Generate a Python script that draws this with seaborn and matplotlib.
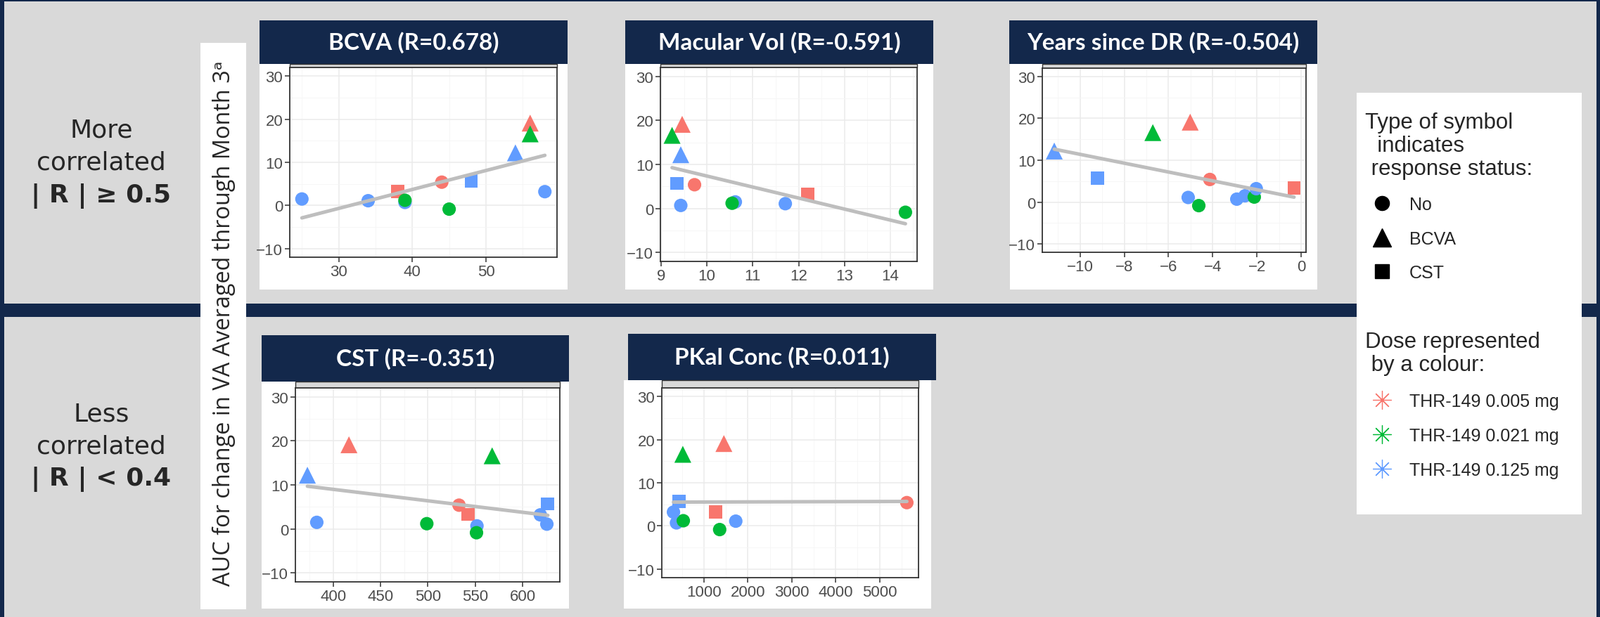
# Painel de correlações: AUC da variação de AV vs. variáveis basais
import numpy as np
import pandas as pd
import matplotlib
matplotlib.use('Agg')
import matplotlib.pyplot as plt
from matplotlib.patches import Rectangle
from matplotlib.lines import Line2D
from matplotlib.ticker import MultipleLocator
import seaborn as sns

# Dados (um valor por paciente)
dose = ['0.125', '0.125', '0.005', '0.125', '0.021', '0.005', '0.021', '0.125', '0.125', '0.005', '0.021', '0.125']
response = ['No', 'No', 'CST', 'No', 'No', 'No', 'No', 'CST', 'BCVA', 'BCVA', 'BCVA', 'No']
auc = [1.5, 1.1, 3.3, 0.7, 1.2, 5.4, -0.85, 5.7, 12.2, 19.1, 16.6, 3.2]

bcva = [25, 34, 38, 39, 39, 44, 45, 48, 54, 56, 56, 58]
macular_vol = [10.62, 11.71, 12.2, 9.43, 10.55, 9.73, 14.33, 9.35, 9.43, 9.46, 9.24, np.nan]
years_dr = [-2.54, -5.11, -0.32, -2.91, -2.12, -4.13, -4.63, -9.22, -11.17, -5.02, -6.71, -2.03]
cst = [382.8, 625.4, 542.6, 551.7, 498.8, 532.8, 551.2, 626.4, 372.9, 416.7, 567.7, 618.5]
pkal = [np.nan, 1723, 1261, 372, 527, 5622, 1356, 426, np.nan, 1452, 516, 303]

titles = ['BCVA (R=0.678)', 'Macular Vol (R=-0.591)', 'Years since DR (R=-0.504)',
          'CST (R=-0.351)', 'PKal Conc (R=0.011)']
dose_levels = ['0.005', '0.021', '0.125']
dose_labels = ['THR-149 0.005 mg', 'THR-149 0.021 mg', 'THR-149 0.125 mg']
response_levels = ['No', 'BCVA', 'CST']

# Cores e símbolos
pal = {'0.005': '#F8766D', '0.021': '#00BA38', '0.125': '#619CFF'}
mk = {'No': 'o', 'BCVA': '^', 'CST': 's'}
sz = {'No': 190, 'BCVA': 300, 'CST': 185}
navy = '#13284b'
gray = '#d9d9d9'

sns.set_style('white')
plt.rcParams['font.family'] = ['Liberation Sans', 'DejaVu Sans']

W, H = 2275, 879
fig = plt.figure(figsize=(W / 100, H / 100), dpi=100, facecolor=navy)


def fbox(x0, y0, x1, y1):
    # caixa em pixels (origem no topo) -> coordenadas da figura
    return [x0 / W, 1 - y1 / H, (x1 - x0) / W, (y1 - y0) / H]


def rect(x0, y0, x1, y1, color, z, **kw):
    fig.add_artist(Rectangle((x0 / W, 1 - y1 / H), (x1 - x0) / W, (y1 - y0) / H,
                             facecolor=color, zorder=z, **kw))


# Fundos
rect(6, 3, 2270, 433, gray, -10, lw=0)
rect(6, 452, 2270, 879, gray, -10, lw=0)
rect(285, 62, 350, 868, 'white', -5, lw=0)     # caixa do rótulo y
rect(1929, 133, 2249, 733, 'white', -5, lw=0)  # caixa da legenda

# Layout de cada painel: título, fundo branco, eixos, passos dos ticks
layout = [
    (bcva, (369, 30, 807, 92), (369, 92, 807, 413), (412, 97, 792, 367), 10, 5),
    (macular_vol, (889, 30, 1327, 92), (889, 92, 1327, 413), (939, 97, 1304, 373), 1, 0.5),
    (years_dr, (1435, 30, 1873, 92), (1436, 92, 1873, 413), (1482, 98, 1857, 360), 2, 1),
    (cst, (372, 478, 809, 544), (372, 544, 809, 867), (420, 553, 796, 829), 50, 25),
    (pkal, (893, 476, 1331, 542), (887, 542, 1324, 867), (941, 553, 1306, 823), 1000, 500),
]

for (xs, tbox, wbox, abox, xmaj, xmin), title in zip(layout, titles):
    rect(*wbox, 'white', -5, lw=0)
    rect(*tbox, navy, -4, lw=0)
    # faixa cinza (strip do ggplot) entre título e painel
    rect(abox[0], tbox[3], abox[2], abox[1], gray, -3, lw=1, edgecolor='#333333')
    fig.text((tbox[0] + tbox[2]) / 2 / W, 1 - (tbox[1] + tbox[3]) / 2 / H, title,
             ha='center', va='center', color='white', fontsize=24, fontweight='bold',
             family=['Lato', 'DejaVu Sans'])

    ax = fig.add_axes(fbox(*abox))
    df = pd.DataFrame({'x': xs, 'auc': auc, 'dose': dose, 'response': response})
    sns.scatterplot(data=df, x='x', y='auc', hue='dose', hue_order=dose_levels, palette=pal,
                    style='response', markers=mk, size='response', sizes=sz,
                    linewidth=0, legend=False, ax=ax, zorder=3)
    sns.regplot(data=df, x='x', y='auc', scatter=False, ci=None, color='#bebebe',
                line_kws={'lw': 3.6, 'zorder': 4}, ax=ax)
    ax.margins(x=0.05)
    ax.set_ylim(-12, 32)
    ax.xaxis.set_major_locator(MultipleLocator(xmaj))
    ax.xaxis.set_minor_locator(MultipleLocator(xmin))
    ax.yaxis.set_major_locator(MultipleLocator(10))
    ax.yaxis.set_minor_locator(MultipleLocator(5))
    ax.grid(which='major', color='#ebebeb', lw=1.1)
    ax.grid(which='minor', color='#f5f5f5', lw=0.6)
    ax.set_axisbelow(True)
    ax.tick_params(which='major', length=5, width=1.1, color='#333333',
                   labelsize=16, labelcolor='#4d4d4d', pad=2, left=True, bottom=True)
    ax.tick_params(which='minor', length=0)
    for s in ax.spines.values():
        s.set_color('#333333')
        s.set_linewidth(1.3)
    ax.set_xlabel('')
    ax.set_ylabel('')

# Rótulo do eixo y comum
fig.text(318 / W, 1 - 460 / H, 'AUC for change in VA Averaged through Month 3ᵃ',
         rotation=90, ha='center', va='center', fontsize=23.4,
         family=['Open Sans', 'DejaVu Sans'])

# Textos da esquerda
for txt, y, wgt in [('More', 186, 'normal'), ('correlated', 232, 'normal'), ('| R | ≥ 0.5', 279, 'bold'),
                    ('Less', 589, 'normal'), ('correlated', 635, 'normal'), ('| R | < 0.4', 682, 'bold')]:
    fig.text(144 / W, 1 - y / H, txt, ha='center', va='center', fontsize=26,
             fontweight=wgt, family='DejaVu Sans')

# Legendas
h1 = [Line2D([], [], ls='none', marker=mk[r], color='black',
             markersize=19 if r == 'BCVA' else 14.5) for r in response_levels]
leg1 = fig.legend(h1, response_levels, title='Type of symbol\n  indicates\n response status:',
                  loc='upper left', bbox_to_anchor=(1941 / W, 1 - 160 / H), frameon=False,
                  fontsize=18, title_fontsize=22.5, handlelength=1.9, handletextpad=0.6,
                  labelspacing=0.98, borderpad=0, borderaxespad=0, alignment='left')
leg1.get_title().set_linespacing(1.12)

h2 = [Line2D([], [], ls='none', marker=(8, 2, 0), markersize=19, markeredgewidth=0.9,
             color=pal[d]) for d in dose_levels]
leg2 = fig.legend(h2, dose_labels, title='Dose represented\n by a colour:',
                  loc='upper left', bbox_to_anchor=(1941 / W, 1 - 472 / H), frameon=False,
                  fontsize=18, title_fontsize=22.5, handlelength=1.9, handletextpad=0.6,
                  labelspacing=1.0, borderpad=0, borderaxespad=0, alignment='left')
leg2.get_title().set_linespacing(1.12)

fig.savefig('out.png', dpi=100, facecolor=navy)
